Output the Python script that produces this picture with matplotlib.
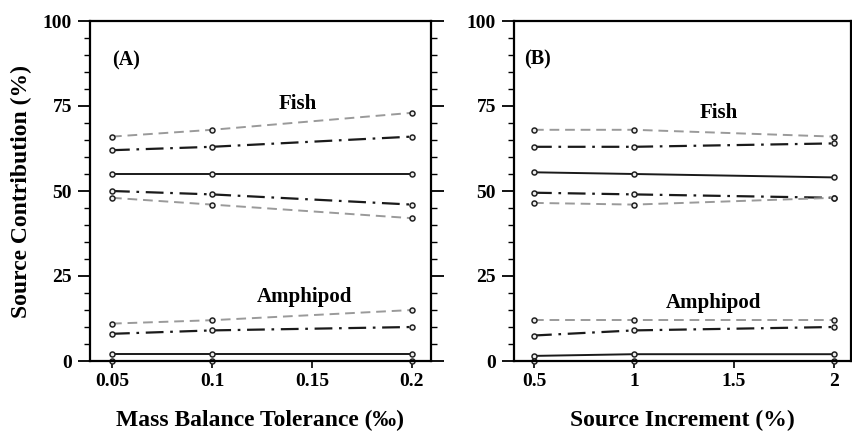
import matplotlib
matplotlib.use("Agg")
import matplotlib.pyplot as plt
from matplotlib.ticker import MultipleLocator

plt.rcParams['font.family'] = ['Liberation Serif', 'DejaVu Serif']
plt.rcParams['font.weight'] = 'bold'

# Panel A: Mass balance tolerance
xa = [0.05, 0.1, 0.2]
a_fish_hi95 = [66, 68, 73]
a_fish_hi50 = [62, 63, 66]
a_fish_med = [55, 55, 55]
a_fish_lo50 = [50, 49, 46]
a_fish_lo95 = [48, 46, 42]
a_amph_hi95 = [11, 12, 15]
a_amph_hi50 = [8, 9, 10]
a_amph_med = [2, 2, 2]
a_amph_lo = [0, 0, 0]

# Panel B: Source increment
xb = [0.5, 1, 2]
b_fish_hi95 = [68, 68, 66]
b_fish_hi50 = [63, 63, 64]
b_fish_med = [55.5, 55, 54]
b_fish_lo50 = [49.5, 49, 48]
b_fish_lo95 = [46.5, 46, 48]
b_amph_hi95 = [12, 12, 12]
b_amph_hi50 = [7.5, 9, 10]
b_amph_med = [1.5, 2, 2]
b_amph_lo = [0, 0, 0]

yticks = [0, 25, 50, 75, 100]
xticks_a = [0.05, 0.1, 0.15, 0.2]
xticklabels_a = ['0.05', '0.1', '0.15', '0.2']
xticks_b = [0.5, 1, 1.5, 2]
xticklabels_b = ['0.5', '1', '1.5', '2']

fig = plt.figure(figsize=(8.53, 4.32), dpi=100)
axA = fig.add_axes([90/853, 1-361/432, 341/853, 340/432])
axB = fig.add_axes([514/853, 1-361/432, 337/853, 340/432])

styles = {
    'hi95': dict(color='#9a9a9a', linestyle=(0, (5, 3)), lw=1.4),
    'hi50': dict(color='#1a1a1a', linestyle=(0, (8, 3, 1.2, 3)), lw=1.6),
    'med': dict(color='#1a1a1a', linestyle='-', lw=1.4),
}
mk = dict(marker='o', markersize=3.6, markerfacecolor='#eeeeee', markeredgecolor='#222222', markeredgewidth=1.1)

def draw(ax, x, fh95, fh50, fm, fl50, fl95, ah95, ah50, am, al):
    ax.plot(x, fh95, **styles['hi95'], **mk)
    ax.plot(x, fh50, **styles['hi50'], **mk)
    ax.plot(x, fm, **styles['med'], **mk)
    ax.plot(x, fl50, **styles['hi50'], **mk)
    ax.plot(x, fl95, **styles['hi95'], **mk)
    ax.plot(x, ah95, **styles['hi95'], **mk)
    ax.plot(x, ah50, **styles['hi50'], **mk)
    ax.plot(x, am, **styles['med'], **mk)
    ax.plot(x, al, **styles['med'], clip_on=False, **mk)

draw(axA, xa, a_fish_hi95, a_fish_hi50, a_fish_med, a_fish_lo50, a_fish_lo95,
     a_amph_hi95, a_amph_hi50, a_amph_med, a_amph_lo)
draw(axB, xb, b_fish_hi95, b_fish_hi50, b_fish_med, b_fish_lo50, b_fish_lo95,
     b_amph_hi95, b_amph_hi50, b_amph_med, b_amph_lo)

axA.set_xlim(0.039, 0.2095)
axB.set_xlim(0.40, 2.085)
for ax in (axA, axB):
    ax.set_ylim(0, 100)
    ax.set_yticks(yticks)
    ax.yaxis.set_minor_locator(MultipleLocator(5))
    ax.tick_params(axis='y', which='major', direction='out', length=9, width=1.3,
                   left=True, right=True, labelsize=14, pad=4)
    ax.tick_params(axis='y', which='minor', direction='out', length=4, width=1.0,
                   left=True, right=True)
    ax.tick_params(axis='x', which='major', direction='out', length=5, width=1.2,
                   labelsize=14, pad=4)
    for s in ax.spines.values():
        s.set_linewidth(1.6)
    for lab in ax.get_xticklabels() + ax.get_yticklabels():
        lab.set_fontweight('bold')

axA.set_xticks(xticks_a)
axA.set_xticklabels(xticklabels_a, fontweight='bold')
axB.set_xticks(xticks_b)
axB.set_xticklabels(xticklabels_b, fontweight='bold')

axA.set_ylabel('Source Contribution (%)', fontsize=17, fontweight='bold', labelpad=8)
axA.set_xlabel('Mass Balance Tolerance (‰)', fontsize=17, fontweight='bold', labelpad=14)
axB.set_xlabel('Source Increment (%)', fontsize=17, fontweight='bold', labelpad=14)

axA.text(0.057, 88.3, '(A)', fontsize=14.5, fontweight='bold', ha='center', va='center')
axB.text(0.52, 88.8, '(B)', fontsize=14.5, fontweight='bold', ha='center', va='center')
axA.text(0.143, 75.5, 'Fish', fontsize=15, fontweight='bold', ha='center', va='center')
axA.text(0.146, 18.8, 'Amphipod', fontsize=15, fontweight='bold', ha='center', va='center')
axB.text(1.425, 73, 'Fish', fontsize=15, fontweight='bold', ha='center', va='center')
axB.text(1.395, 17, 'Amphipod', fontsize=15, fontweight='bold', ha='center', va='center')

fig.savefig('out.png', dpi=100)
